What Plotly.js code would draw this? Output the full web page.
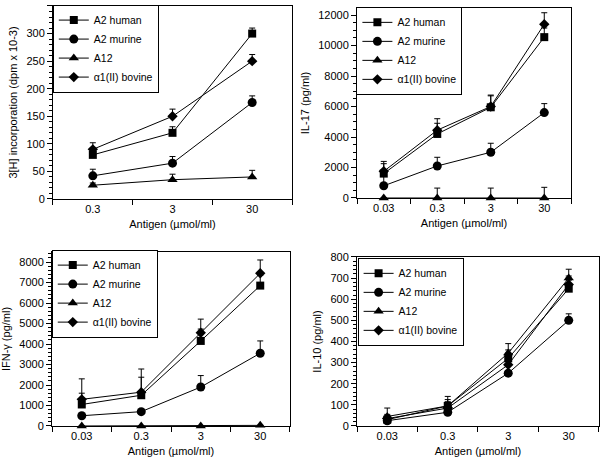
<!DOCTYPE html>
<html>
<head>
<meta charset="utf-8">
<script src="https://cdn.plot.ly/plotly-3.0.1.min.js"></script>
<style>
  html, body { margin: 0; padding: 0; background: #fff; }
  #plot { width: 600px; height: 458px; }
</style>
</head>
<body>
<div id="plot"></div>
<script>
// --- Data ---
const seriesNames = ["A2 human", "A2 murine", "A12", "\u03b11(II) bovine"];
const doses3 = ["0.3", "3", "30"];
const doses4 = ["0.03", "0.3", "3", "30"];

// panel A: 3[H] incorporation
const thyHuman = [80, 120, 300];
const thyMurine = [42, 65, 175];
const thyA12 = [25, 35, 40];
const thyBovine = [90, 150, 250];
const thyHumanErr = [8, 11, 10];
const thyMurineErr = [12, 12, 12];
const thyA12Err = [4, 10, 12];
const thyBovineErr = [12, 13, 12];

// panel B: IL-17
const il17Human = [1600, 4200, 5950, 10550];
const il17Murine = [800, 2100, 3000, 5600];
const il17A12 = [0, 0, 0, 0];
const il17Bovine = [1750, 4450, 6000, 11400];
const il17HumanErr = [650, 700, 750, 600];
const il17MurineErr = [700, 570, 590, 590];
const il17A12Err = [0, 650, 650, 700];
const il17BovineErr = [650, 750, 750, 750];

// panel C: IFN-gamma
const ifnHuman = [1050, 1500, 4150, 6850];
const ifnMurine = [500, 700, 1900, 3550];
const ifnA12 = [0, 0, 0, 30];
const ifnBovine = [1300, 1650, 4550, 7450];
const ifnHumanErr = [550, 880, 580, 500];
const ifnMurineErr = [0, 0, 560, 600];
const ifnA12Err = [0, 0, 0, 0];
const ifnBovineErr = [1000, 1130, 665, 650];

// panel D: IL-10
const il10Human = [30, 95, 320, 650];
const il10Murine = [25, 65, 250, 500];
const il10A12 = [45, 95, 345, 700];
const il10Bovine = [35, 85, 290, 670];
const il10HumanErr = [20, 30, 40, 40];
const il10MurineErr = [10, 10, 10, 31];
const il10A12Err = [40, 45, 45, 42];
const il10BovineErr = [20, 30, 40, 40];

// --- Styling helpers ---
const FONT = "Liberation Sans, Arial, Helvetica, sans-serif";
const symbols = ["square", "circle", "triangle-up", "diamond"];
const sizes = [8, 9, 9, 8];

function makeTrace(i, x, y, err, ax, lg) {
  return {
    x: x,
    y: y,
    type: "scatter",
    mode: "lines+markers",
    name: seriesNames[i],
    xaxis: "x" + ax,
    yaxis: "y" + ax,
    legend: lg,
    cliponaxis: false,
    line: { color: "black", width: 1 },
    marker: { symbol: symbols[i], size: sizes[i], color: "black" },
    error_y: {
      type: "data",
      symmetric: false,
      array: err,
      arrayminus: err.map(() => 0),
      color: "black",
      thickness: 1,
      width: 3
    }
  };
}

const data = [
  makeTrace(0, doses3, thyHuman, thyHumanErr, "", "legend"),
  makeTrace(1, doses3, thyMurine, thyMurineErr, "", "legend"),
  makeTrace(2, doses3, thyA12, thyA12Err, "", "legend"),
  makeTrace(3, doses3, thyBovine, thyBovineErr, "", "legend"),

  makeTrace(0, doses4, il17Human, il17HumanErr, "2", "legend2"),
  makeTrace(1, doses4, il17Murine, il17MurineErr, "2", "legend2"),
  makeTrace(2, doses4, il17A12, il17A12Err, "2", "legend2"),
  makeTrace(3, doses4, il17Bovine, il17BovineErr, "2", "legend2"),

  makeTrace(0, doses4, ifnHuman, ifnHumanErr, "3", "legend3"),
  makeTrace(1, doses4, ifnMurine, ifnMurineErr, "3", "legend3"),
  makeTrace(2, doses4, ifnA12, ifnA12Err, "3", "legend3"),
  makeTrace(3, doses4, ifnBovine, ifnBovineErr, "3", "legend3"),

  makeTrace(0, doses4, il10Human, il10HumanErr, "4", "legend4"),
  makeTrace(1, doses4, il10Murine, il10MurineErr, "4", "legend4"),
  makeTrace(2, doses4, il10A12, il10A12Err, "4", "legend4"),
  makeTrace(3, doses4, il10Bovine, il10BovineErr, "4", "legend4")
];
// trace axis ids: first panel uses plain "x"/"y"
data.slice(0, 4).forEach(t => { t.xaxis = "x"; t.yaxis = "y"; });

function xAxis(domain, anchor, n) {
  return {
    domain: domain,
    anchor: anchor,
    type: "category",
    range: [-0.5, n - 0.5],
    tickson: "boundaries",
    ticks: "outside",
    ticklen: 5,
    tickcolor: "black",
    showline: true,
    mirror: true,
    linecolor: "black",
    linewidth: 1,
    showgrid: false,
    zeroline: false,
    tickfont: { size: 11, color: "black" },
    title: { text: "Antigen (\u00b5mol/ml)", font: { size: 11, color: "black" }, standoff: 6 }
  };
}

function yAxis(domain, anchor, range, dtick, minor, title) {
  return {
    domain: domain,
    anchor: anchor,
    range: range,
    dtick: dtick,
    tickformat: "d",
    ticks: "outside",
    ticklen: 5,
    tickcolor: "black",
    minor: { dtick: minor, ticks: "outside", ticklen: 3, tickcolor: "black", showgrid: false },
    showline: true,
    mirror: true,
    linecolor: "black",
    linewidth: 1,
    showgrid: false,
    zeroline: false,
    tickfont: { size: 11, color: "black" },
    title: { text: title, font: { size: 11, color: "black" }, standoff: 6 }
  };
}

function legendBox(x, y) {
  return {
    x: x, y: y,
    xanchor: "left", yanchor: "top",
    bgcolor: "white",
    bordercolor: "black",
    borderwidth: 1,
    font: { size: 10.5, color: "black", family: FONT },
    tracegroupgap: 0,
    itemwidth: 30
  };
}

// --- Layout ---
const layout = {
  width: 600,
  height: 458,
  margin: { l: 0, r: 0, t: 0, b: 0 },
  paper_bgcolor: "white",
  plot_bgcolor: "white",
  font: { family: FONT, size: 11, color: "black" },
  showlegend: true,

  xaxis: xAxis([0.0883, 0.4867], "y", 3),
  yaxis: yAxis([0.5655, 0.9869], "x", [0, 350], 50, 10, "3[H] incorporation (dpm x 10-3)"),

  xaxis2: xAxis([0.595, 0.9517], "y2", 4),
  yaxis2: yAxis([0.5677, 0.9825], "x2", [0, 12460], 2000, 500, "IL-17 (pg/ml)"),

  xaxis3: xAxis([0.0867, 0.4833], "y3", 4),
  yaxis3: yAxis([0.0699, 0.4498], "x3", [0, 8490], 1000, 200, "IFN-\u03b3 (pg/ml)"),

  xaxis4: xAxis([0.595, 0.9983], "y4", 4),
  yaxis4: yAxis([0.0699, 0.4389], "x4", [0, 800], 100, 20, "IL-10 (pg/ml)"),

  legend: legendBox(0.088, 0.99),
  legend2: legendBox(0.594, 0.985),
  legend3: legendBox(0.0863, 0.455),
  legend4: legendBox(0.596, 0.437)
};

Plotly.newPlot("plot", data, layout, { displayModeBar: false, staticPlot: true });
</script>
</body>
</html>
